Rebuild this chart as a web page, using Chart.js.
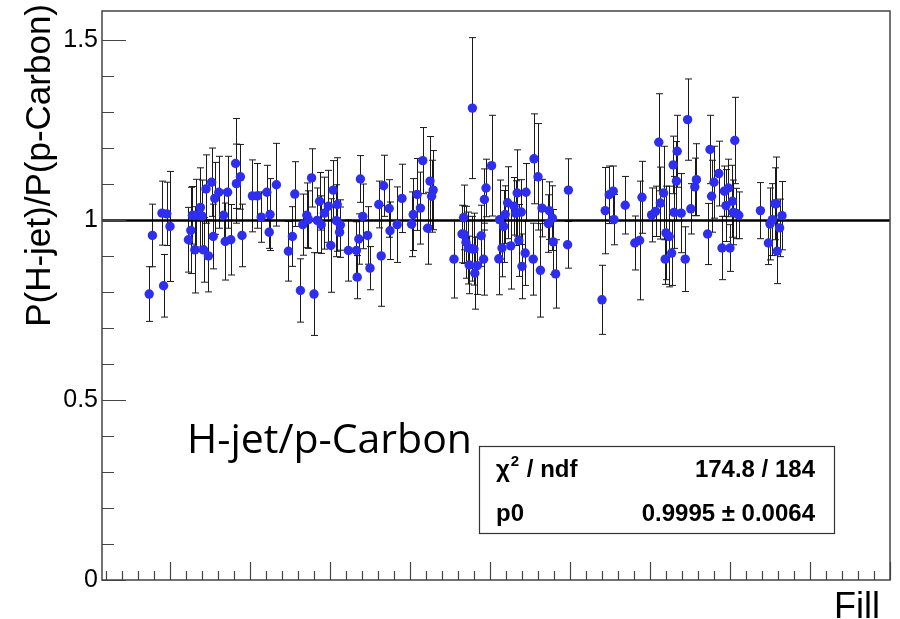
<!DOCTYPE html>
<html>
<head>
<meta charset="utf-8">
<script src="https://cdn.jsdelivr.net/npm/chart.js@4.4.1/dist/chart.umd.min.js"></script>
<style>
  html,body{margin:0;padding:0;background:#fff;}
  #wrap{width:900px;height:619px;position:relative;}
</style>
</head>
<body>
<div id="wrap"><canvas id="ratioChart"></canvas></div>
<script>
// ═══════════ DATA ═══════════
// fill number, P(H-jet)/P(p-Carbon), error
const fills=[16974,16978,16990,16992,16996,17000,17023,17026,17028,17031,17033,17038,17040,17042,17045,17048,17052,17054,17056,17061,17067,17069,17072,17076,17082,17083,17088,17090,17103,17109,17114,17121,17124,17125,17133,17148,17153,17156,
  17163,17166,17171,17173,17177,17180,17184,17187,17189,17193,17198,17201,17204,17208,17209,17212,17213,17223,17233,17234,17236,17238,17241,17247,17250,17261,17264,17267,17274,17275,17284,17290,17302,17304,17309,17313,17316,17322,17325,17327,17329,
  17355,17365,17367,17368,17370,17373,17374,17377,17378,17380,17381,17384,17389,17392,17393,17395,17402,17411,17412,17415,17417,17419,17422,17426,17430,17432,17434,17436,17439,17440,17444,17445,17454,17455,17460,17463,17465,17473,17474,17478,17479,17482,17497,17498,
  17540,17544,17549,17554,17555,17569,17581,17587,17590,17602,17607,17611,17613,17617,17619,17620,17624,17627,17629,17630,17633,17634,17639,17644,17647,17651,17656,17658,17672,17675,17677,17680,
  17686,17690,17693,17695,17698,17700,17703,17704,17706,17708,17711,17738,17748,17750,17753,17756,17758,17759,17762,17765];
const ratio=[0.795,0.958,1.020,0.818,1.018,0.983,0.946,0.972,1.014,0.918,1.014,1.036,1.012,0.918,1.087,0.901,1.106,0.955,1.061,1.078,1.014,0.941,1.078,0.946,1.158,1.102,1.121,0.958,1.068,1.068,1.009,1.078,0.967,1.016,1.099,0.914,0.955,1.073,
  0.805,0.988,1.014,1.002,1.118,0.795,1.000,1.053,0.988,1.020,1.039,0.930,1.084,0.999,1.044,0.967,0.987,0.916,0.916,0.842,0.948,1.115,1.011,0.958,0.867,1.044,0.901,1.096,1.033,0.971,0.988,1.061,0.989,1.016,1.072,1.034,1.166,0.978,1.109,1.067,1.084,
  0.892,0.962,1.008,0.960,0.939,0.923,0.876,0.921,1.312,0.920,0.853,0.874,0.957,0.892,1.058,1.090,1.152,0.893,1.002,0.923,0.983,1.016,1.049,0.929,1.039,1.020,1.076,0.944,1.023,0.872,0.909,1.078,0.892,1.171,1.121,0.861,1.034,0.991,1.027,1.006,0.940,0.851,0.932,1.084,
  0.779,1.027,1.071,1.081,1.002,1.042,0.937,0.944,1.064,1.015,1.025,1.217,1.048,1.076,0.892,0.965,0.955,0.909,1.154,1.022,1.109,1.192,1.020,0.892,1.280,1.032,1.093,1.113,0.962,1.197,1.067,1.106,
  1.130,0.923,1.081,1.041,1.090,0.923,1.053,1.022,1.222,1.019,1.014,1.027,0.937,0.990,1.002,1.046,1.046,0.914,0.979,1.013];
const ratioErr=[0.076,0.087,0.089,0.087,0.088,0.153,0.090,0.120,0.080,0.120,0.100,0.110,0.100,0.090,0.095,0.100,0.095,0.090,0.100,0.100,0.070,0.107,0.100,0.098,0.125,0.110,0.090,0.087,0.100,0.090,0.070,0.075,0.045,0.100,0.115,0.083,0.083,0.090,
  0.088,0.085,0.090,0.080,0.081,0.115,0.090,0.080,0.080,0.100,0.100,0.130,0.082,0.100,0.130,0.070,0.070,0.085,0.080,0.060,0.070,0.065,0.090,0.080,0.060,0.065,0.140,0.085,0.080,0.080,0.105,0.095,0.090,0.100,0.100,0.100,0.092,0.100,0.124,0.100,0.110,
  0.108,0.080,0.090,0.080,0.100,0.100,0.080,0.090,0.196,0.100,0.100,0.080,0.085,0.100,0.085,0.080,0.140,0.100,0.110,0.080,0.100,0.080,0.100,0.120,0.080,0.090,0.120,0.100,0.090,0.090,0.090,0.080,0.100,0.125,0.148,0.130,0.080,0.080,0.080,0.090,0.090,0.095,0.065,0.087,
  0.096,0.120,0.080,0.070,0.070,0.080,0.075,0.165,0.100,0.075,0.070,0.135,0.100,0.130,0.070,0.130,0.140,0.090,0.080,0.100,0.110,0.100,0.110,0.090,0.113,0.070,0.080,0.100,0.085,0.095,0.100,0.100,
  0.090,0.088,0.070,0.100,0.080,0.065,0.100,0.090,0.120,0.070,0.065,0.078,0.060,0.100,0.100,0.100,0.130,0.090,0.080,0.095];
const fitP0=0.9995;
const fitChi2='174.8 / 184';
const fitP0Text='0.9995 \u00b1 0.0064';
const xRange=[16915,17900];
const yRange=[0,1.582];
const yLabels=[0,0.5,1,1.5];

// error bars drawn under the markers
const errorBars={
  id:'errorBars',
  beforeDatasetsDraw(chart){
    const {ctx,chartArea:a,scales:{x,y}}=chart;
    ctx.save();
    ctx.beginPath();ctx.rect(a.left,a.top,a.right-a.left,a.bottom-a.top);ctx.clip();
    ctx.strokeStyle='#1a1a1a';ctx.lineWidth=1;
    for(let i=0;i<fills.length;i++){
      const px=Math.round(x.getPixelForValue(fills[i]))+0.5;
      const hi=y.getPixelForValue(ratio[i]+ratioErr[i]);
      const lo=y.getPixelForValue(ratio[i]-ratioErr[i]);
      ctx.beginPath();
      ctx.moveTo(px,hi);ctx.lineTo(px,lo);
      ctx.moveTo(px-3.5,hi);ctx.lineTo(px+3.5,hi);
      ctx.moveTo(px-3.5,lo);ctx.lineTo(px+3.5,lo);
      ctx.stroke();
    }
    ctx.restore();
  }
};

// ROOT-like frame, inward ticks and the text boxes
const rootFrame={
  id:'rootFrame',
  afterDraw(chart){
    const {ctx,chartArea:a,scales:{x,y}}=chart;
    ctx.save();
    ctx.strokeStyle='#444';ctx.lineWidth=1.5;
    ctx.strokeRect(a.left,a.top,a.right-a.left,a.bottom-a.top);
    ctx.lineWidth=1.2;ctx.beginPath();
    for(let k=0;k<=15;k++){
      const v=k/10,py=Math.round(y.getPixelForValue(v))+0.5;
      const len=(k%5===0)?24:12;
      ctx.moveTo(a.left,py);ctx.lineTo(a.left+len,py);
    }
    for(let f=16920;f<=xRange[1];f+=20){
      const px=Math.round(x.getPixelForValue(f))+0.5;
      const len=(f%100===0)?18:9;
      ctx.moveTo(px,a.bottom);ctx.lineTo(px,a.bottom-len);
    }
    ctx.stroke();

    // axis titles
    ctx.fillStyle='#000';
    ctx.font='35px "Liberation Sans", Arial, sans-serif';
    ctx.save();
    ctx.translate(50,4);ctx.rotate(-Math.PI/2);
    ctx.textAlign='right';ctx.textBaseline='alphabetic';
    ctx.fillText('P(H-jet)/P(p-Carbon)',0,0);
    ctx.restore();
    ctx.textAlign='right';
    ctx.font='36px "Liberation Sans", Arial, sans-serif';
    ctx.fillText('Fill',880,618);

    // label
    ctx.font='40px "Open Sans", "Noto Sans", sans-serif';
    ctx.textAlign='left';
    const lab='H-jet/p-Carbon';
    const sx=285/ctx.measureText(lab).width;
    ctx.save();ctx.translate(187,453);ctx.scale(sx,1);ctx.fillText(lab,0,0);ctx.restore();

    // fit stats box
    ctx.fillStyle='#fff';ctx.fillRect(479,446,355,87);
    ctx.strokeStyle='#333';ctx.lineWidth=1.2;ctx.strokeRect(479.5,446.5,355,87);
    ctx.fillStyle='#000';
    ctx.font='bold 24px "Liberation Sans", Arial, sans-serif';
    ctx.textAlign='left';
    ctx.fillText('\u03c7',496,477);
    const cw=ctx.measureText('\u03c7').width;
    ctx.font='bold 15px "Liberation Sans", Arial, sans-serif';
    ctx.fillText('2',496+cw+1,466);
    ctx.font='bold 24px "Liberation Sans", Arial, sans-serif';
    ctx.fillText('/ ndf',496+cw+17,477);
    ctx.fillText('p0',496,521);
    ctx.textAlign='right';
    ctx.fillText(fitChi2,815,477);
    ctx.fillText(fitP0Text,815,521);
    ctx.restore();
  }
};

new Chart(document.getElementById('ratioChart'),{
  type:'scatter',
  data:{
    datasets:[
      {label:'ratio',data:fills.map((f,i)=>({x:f,y:ratio[i]})),
       pointRadius:4.7,pointHoverRadius:4.7,pointBorderWidth:0,
       pointBackgroundColor:'#2e2ef0',order:0},
      {type:'line',label:'fit',data:[{x:xRange[0],y:fitP0},{x:xRange[1],y:fitP0}],
       borderColor:'#000',borderWidth:2.5,pointRadius:0,fill:false,order:1}
    ]
  },
  options:{
    responsive:true,maintainAspectRatio:false,animation:false,
    layout:{padding:{top:11,right:10,left:0,bottom:0}},
    plugins:{legend:{display:false},tooltip:{enabled:false}},
    scales:{
      x:{type:'linear',min:xRange[0],max:xRange[1],
         ticks:{display:false},grid:{display:false,drawTicks:false},border:{display:false},
         afterFit(s){s.height=39;s.paddingLeft=0;s.paddingRight=0;}},
      y:{min:yRange[0],max:yRange[1],
         afterBuildTicks(s){s.ticks=yLabels.map(v=>({value:v}));},
         ticks:{font:{family:'"Liberation Sans", Arial, sans-serif',size:25},color:'#000',padding:4,
                callback:v=>String(v)},
         grid:{display:false,drawTicks:false},border:{display:false},
         afterFit(s){s.width=102;s.paddingTop=0;s.paddingBottom=0;}}
    }
  },
  plugins:[errorBars,rootFrame]
});
</script>
</body>
</html>
